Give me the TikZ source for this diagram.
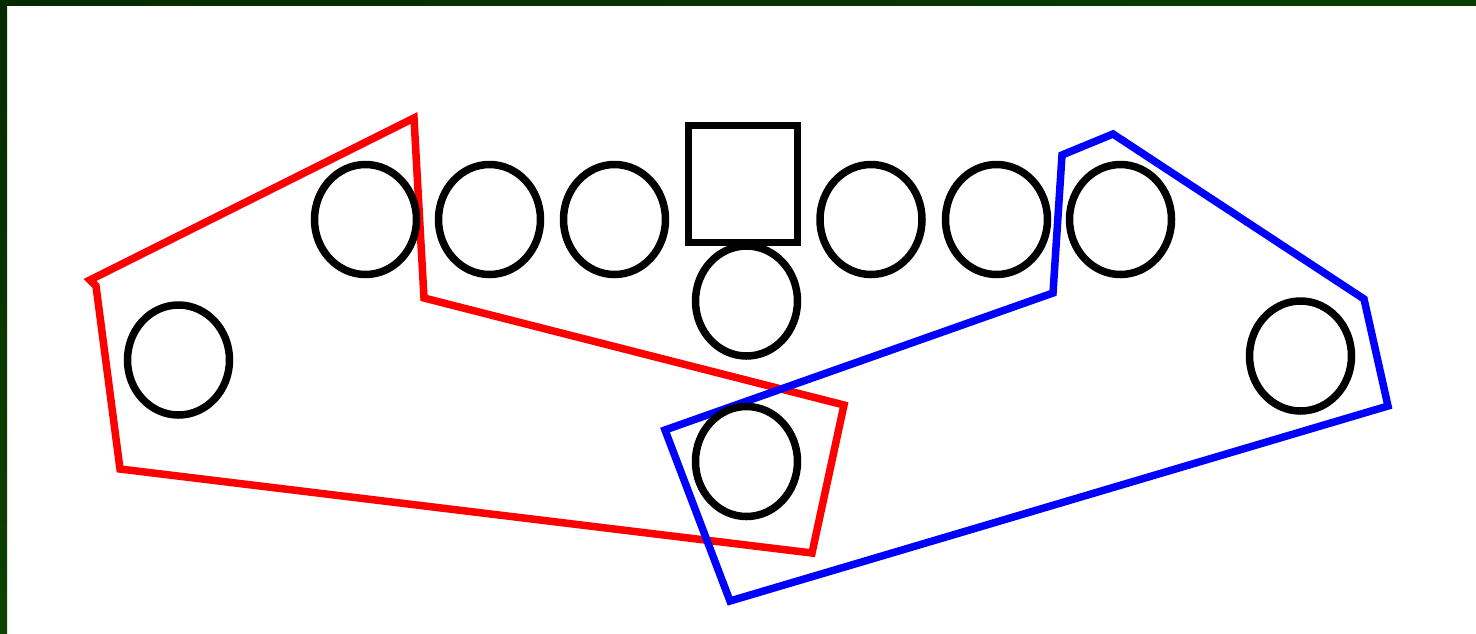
\documentclass[tikz,border=0pt]{standalone}
\usetikzlibrary{shapes.geometric}
\definecolor{framegreenA}{RGB}{6,42,0}
\definecolor{framegreenB}{RGB}{7,61,0}
\definecolor{framegreenC}{RGB}{12,68,0}
\tikzset{
  ring/.style={ellipse, draw=black, line width=7.5pt, inner sep=0pt, minimum width=102pt, minimum height=110pt},
  boxnode/.style={rectangle, draw=black, line width=7pt, inner sep=0pt, minimum width=109pt, minimum height=117pt},
  hullred/.style={draw=red, line width=7.5pt, line join=miter},
  hullblue/.style={draw=blue, line width=7.5pt, line join=miter}
}
\begin{document}
\begin{tikzpicture}[x=1pt,y=-1pt]
\useasboundingbox (0,0) rectangle (1476,633);
\fill[white] (0,0) rectangle (1476,633);
% frame
\shade[left color=framegreenA, right color=framegreenB] (0,0) rectangle (1476,5);
\fill[framegreenA] (0,0) rectangle (145,5);
\shade[top color=framegreenA, bottom color=framegreenC] (0,0) rectangle (7,633);
% hulls
\draw[hullred] (90,280) -- (414,118) -- (424,298) -- (844,405) -- (812,553) -- (120,469) -- (96,286) -- cycle;
\draw[hullblue] (1062,155) -- (1113,134) -- (1364,299) -- (1388,406) -- (730,601) -- (665,430) -- (1053,293) -- cycle;
% nodes
\node[ring] (c1) at (365.5,219.5) {};
\node[ring] (c2) at (489.5,219.5) {};
\node[ring] (c3) at (614.5,219.5) {};
\node[boxnode] (sq) at (743,184) {};
\node[ring] (c4) at (746.5,301) {};
\node[ring] (c5) at (871,219.5) {};
\node[ring] (c6) at (996.5,219.5) {};
\node[ring] (c7) at (1120.5,219.5) {};
\node[ring] (c8) at (178.5,360) {};
\node[ring] (c9) at (1300.5,356) {};
\node[ring] (c10) at (746.5,461.5) {};
\end{tikzpicture}
\end{document}
